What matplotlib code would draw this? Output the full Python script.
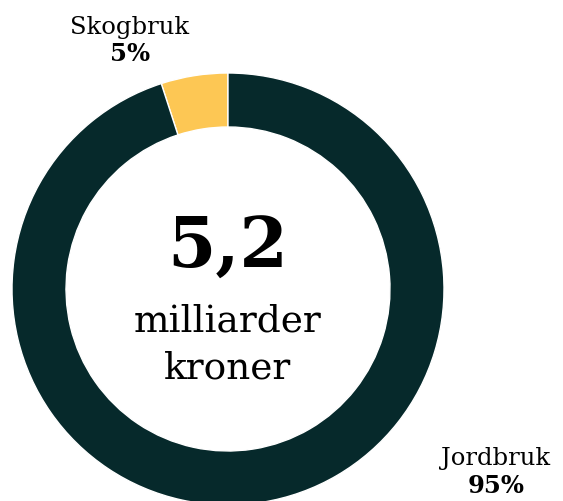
import matplotlib
matplotlib.use('Agg')
import matplotlib.pyplot as plt

# data
labels = ['Skogbruk', 'Jordbruk']
shares = [5, 95]
colors = ['#FDC754', '#06292B']
total_value = '5,2'
total_unit = 'milliarder\nkroner'

W, H = 563, 501
plt.rcParams['font.family'] = ['DejaVu Serif']

fig = plt.figure(figsize=(W / 100, H / 100), dpi=100)
ax = fig.add_axes([0, 0, 1, 1])

cx, cy, r = 228, 289, 216
# y axis is flipped (pixel coords), so angles run the other way
ax.pie(shares, colors=colors, startangle=-90, counterclock=False,
       center=(cx, cy), radius=r, frame=True,
       wedgeprops=dict(width=54, edgecolor='white', linewidth=1))
ax.set_xlim(0, W)
ax.set_ylim(H, 0)
ax.set_aspect('equal')
ax.axis('off')

# center text
ax.text(cx, 248, total_value, ha='center', va='center', fontsize=50,
        fontweight='bold', color='black')
ax.text(cx, 345, total_unit, ha='center', va='center', fontsize=27,
        linespacing=1.4, color='black')

# segment labels
ax.text(130, 27, labels[0], ha='center', va='center', fontsize=17.5)
ax.text(130, 54, '{}%'.format(shares[0]), ha='center', va='center',
        fontsize=17.5, fontweight='bold')
ax.text(496, 459, labels[1], ha='center', va='center', fontsize=17.5)
ax.text(496, 486, '{}%'.format(shares[1]), ha='center', va='center',
        fontsize=17.5, fontweight='bold')

fig.savefig('out.png', dpi=100)
